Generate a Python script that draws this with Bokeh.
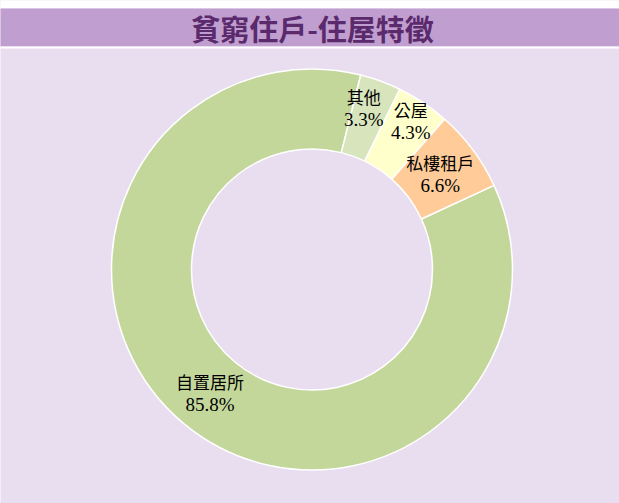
import numpy as np
from bokeh.plotting import figure
from bokeh.models import Range1d, ColumnDataSource
from bokeh.core.properties import value
from bokeh.embed import file_html
from bokeh.resources import INLINE

# ---- data ----
categories = ["自置居所", "其他", "公屋", "私樓租戶"]
shares = [85.8, 3.3, 4.3, 6.6]
colors = ["#C4D79B", "#D8E4BC", "#FFFFCC", "#FFCC99"]
title_text = "貧窮住戶-住屋特徵"

# ---- layout ----
W, H = 619, 503
TOP = 503  # screen y of data y=0


def sy(ys):
    return TOP - ys


cx, cy = 311.5, sy(269)
r_out, r_in = 200.5, 120.5
start_clock_deg = 65.2  # first slice starts here, clockwise from top
label_r = [160, 170, 178, 160]
label_nudge_deg = [0, -2.3, 0, 0]

p = figure(width=W, height=H, output_backend="svg", toolbar_location=None,
           x_range=Range1d(0, 619), y_range=Range1d(0, 503),
           x_axis_type=None, y_axis_type=None, min_border=0)
p.grid.visible = False
p.outline_line_color = None
p.background_fill_color = "#E9DEF0"
p.border_fill_color = "#E9DEF0"

# title bar
p.quad(left=[-5], right=[640], top=[sy(-5)], bottom=[sy(8)], fill_color="white", line_color=None)
p.quad(left=[-5], right=[640], top=[sy(8)], bottom=[sy(46)], fill_color="#C09FD0", line_color=None)
p.quad(left=[-5], right=[640], top=[sy(46)], bottom=[sy(48)], fill_color="white", line_color=None)
p.text(x=[312], y=[sy(27.5)], text=[title_text], text_align="center", text_baseline="middle",
       text_font=value("Noto Sans CJK TC"), text_font_size="29px", text_font_style="bold",
       text_color="#5A2A6C")

# donut
total = sum(shares)
angles = np.array(shares) / total * 360.0
cum = np.concatenate([[0], np.cumsum(angles)])
clock_start = start_clock_deg + cum[:-1]
clock_end = start_clock_deg + cum[1:]
src = ColumnDataSource(dict(
    start=np.radians(90 - clock_start),
    end=np.radians(90 - clock_end),
    color=colors,
))
p.annular_wedge(x=cx, y=cy, inner_radius=r_in, outer_radius=r_out,
                start_angle="start", end_angle="end", direction="clock",
                fill_color="color", line_color="white", line_width=1.5, source=src)

# labels
mid = np.radians(start_clock_deg + (cum[:-1] + cum[1:]) / 2 + np.array(label_nudge_deg))
lx = cx + np.array(label_r) * np.sin(mid)
ly = cy + np.array(label_r) * np.cos(mid)
pct = [f"{s:.1f}%" for s in shares]
p.text(x=lx, y=ly + 11.5, text=categories, text_align="center", text_baseline="middle",
       text_font=value("Noto Sans CJK TC"), text_font_size="17px", text_color="black")
p.text(x=lx, y=ly - 11.5, text=pct, text_align="center", text_baseline="middle",
       text_font=value("Liberation Serif"), text_font_size="19px", text_color="black")

open("out.html", "w").write(file_html(p, INLINE))
